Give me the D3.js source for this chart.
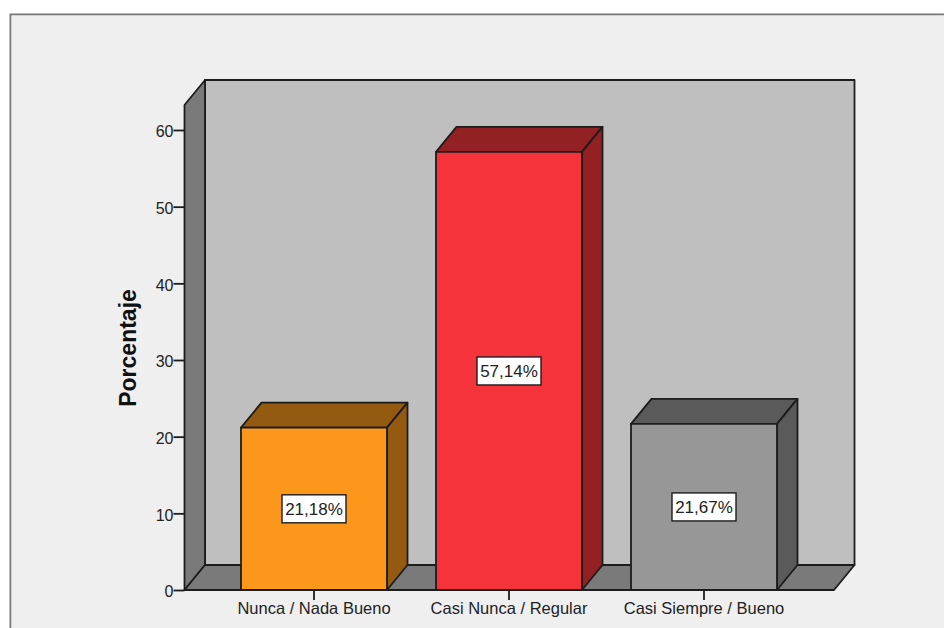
<!DOCTYPE html>
<html><head><meta charset="utf-8">
<script src="https://cdnjs.cloudflare.com/ajax/libs/d3/7.8.5/d3.min.js"></script>
<style>html,body{margin:0;padding:0;background:#fff}svg{display:block}text{font-family:"Liberation Sans",Arial,sans-serif;fill:#222}</style>
</head><body><script>
const categories = ["Nunca / Nada Bueno","Casi Nunca / Regular","Casi Siempre / Bueno"];
const values = [21.18,57.14,21.67];
const labels = ["21,18%","57,14%","21,67%"];
const frontColors = ["#fb981c","#f4333b","#979797"];
const sideColors = ["#945a10","#932023","#5a5a5a"];
const yTicks = [0,10,20,30,40,50,60];

const W=944,H=628;
const svg=d3.select("body").append("svg").attr("width",W).attr("height",H);
const dx=20.5,dy=-25;
const y=d3.scaleLinear().domain([0,60]).range([590,130]);
const x=d3.scaleBand().domain(categories).range([216.5,801.5]).paddingInner(49/195).paddingOuter(24.5/195);
const yTop=105, xL=184.5, xR=834;
const stroke="#1c1c1c";

svg.append("path").attr("d",`M10.5,${H}V14.5H${W}`).attr("fill","#efefef").attr("stroke","#777").attr("stroke-width",2);
svg.append("rect").attr("x",11.5).attr("y",15.5).attr("width",W-11).attr("height",H-15).attr("fill","#efefef");

const poly=(pts,fill)=>svg.append("polygon").attr("points",pts.map(p=>p.join(",")).join(" ")).attr("fill",fill).attr("stroke",stroke).attr("stroke-width",1.8).attr("stroke-linejoin","round");
const y0=y(0);
poly([[xL+dx,yTop+dy],[xR+dx,yTop+dy],[xR+dx,y0+dy],[xL+dx,y0+dy]],"#bfbfbf");
poly([[xL,yTop],[xL+dx,yTop+dy],[xL+dx,y0+dy],[xL,y0]],"#7a7a7a");
poly([[xL,y0],[xL+dx,y0+dy],[xR+dx,y0+dy],[xR,y0]],"#7a7a7a");

const yAxis=d3.axisLeft(y).tickValues(yTicks).tickSize(11).tickPadding(0).tickFormat(d3.format("d"));
const ya=svg.append("g").attr("transform",`translate(${xL},0)`).call(yAxis);
ya.select(".domain").remove();
ya.selectAll("line").attr("stroke",stroke).attr("stroke-width",1.8);
ya.selectAll("text").attr("font-size",16).attr("dy","0.42em").style("font-family",'"Liberation Sans",Arial,sans-serif').attr("fill","#222");

categories.forEach((c,i)=>{
  const a=x(c),b=a+x.bandwidth(),t=y(values[i]);
  poly([[a,t],[a+dx,t+dy],[b+dx,t+dy],[b,t]],sideColors[i]);
  poly([[b,t],[b+dx,t+dy],[b+dx,y0+dy],[b,y0]],sideColors[i]);
  poly([[a,t],[b,t],[b,y0],[a,y0]],frontColors[i]);
});

const xa=svg.append("g").attr("transform",`translate(0,${y0})`).call(d3.axisBottom(x).tickSize(10).tickPadding(2));
xa.select(".domain").remove();
xa.selectAll("line").attr("stroke",stroke).attr("stroke-width",1.8);
xa.selectAll("text").attr("font-size",16.5).style("font-family",'"Liberation Sans",Arial,sans-serif').attr("fill","#222");

categories.forEach((c,i)=>{
  const cx=x(c)+x.bandwidth()/2, cy=y(values[i]/2);
  const g=svg.append("g");
  g.append("rect").attr("x",cx-32).attr("y",cy-14).attr("width",64).attr("height",28).attr("fill","#fff").attr("stroke",stroke).attr("stroke-width",1.4);
  g.append("text").attr("x",cx).attr("y",cy+6).attr("text-anchor","middle").attr("font-size",17).text(labels[i]);
});

svg.append("text").attr("transform",`translate(136,348) rotate(-90)`).attr("text-anchor","middle").attr("font-size",23).attr("font-weight","bold").style("fill","#111").text("Porcentaje");
</script></body></html>
